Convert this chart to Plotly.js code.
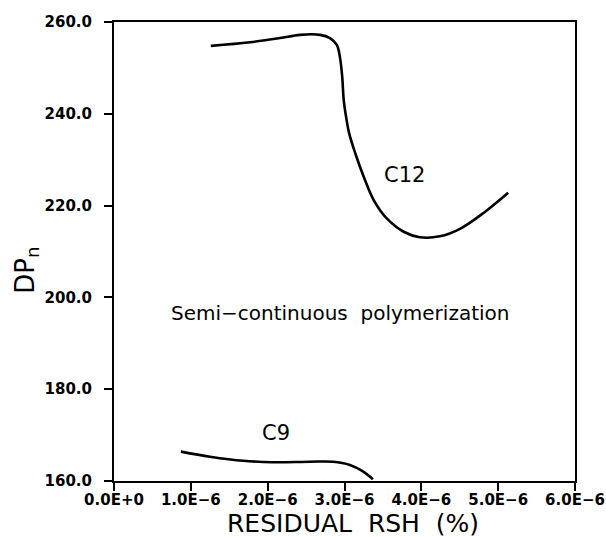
<!DOCTYPE html>
<html>
<head>
<meta charset="utf-8">
<script src="https://cdn.plot.ly/plotly-3.0.1.min.js"></script>
<style>html,body{margin:0;padding:0;background:#fff;}#chart{width:606px;height:537px;}</style>
</head>
<body>
<div id="chart"></div>
<script>
// C12 curve (residual RSH in units of 1e-6 %, DPn)
var c12X = [1.26, 1.77, 2.16, 2.42, 2.68, 2.81, 2.90, 2.94, 2.97, 2.99, 3.02, 3.06, 3.14, 3.25, 3.38, 3.55, 3.77, 3.98, 4.24, 4.51, 4.81, 5.13];
var c12Y = [254.8, 255.6, 256.5, 257.2, 257.2, 256.5, 255.0, 252.4, 248.1, 243.0, 239.4, 235.8, 231.4, 226.3, 221.2, 217.2, 214.3, 213.1, 213.3, 215.0, 218.4, 222.8];
// C9 curve
var c9X = [0.87, 1.25, 1.68, 2.07, 2.55, 2.85, 3.07, 3.23, 3.37];
var c9Y = [166.4, 165.3, 164.4, 164.1, 164.2, 164.2, 163.5, 162.2, 160.4];

var xTickVals = [0, 1, 2, 3, 4, 5, 6];
var xTickText = ["0.0E+0", "1.0E\u22126", "2.0E\u22126", "3.0E\u22126", "4.0E\u22126", "5.0E\u22126", "6.0E\u22126"];
var yTickVals = [160, 180, 200, 220, 240, 260];

function scale(arr) { return arr.map(function (v) { return v * 1e-6; }); }

var lineStyle = {color: '#000', width: 2.6, shape: 'spline', smoothing: 1};
var traces = [
  {x: scale(c12X), y: c12Y, mode: 'lines', line: lineStyle, name: 'C12', hoverinfo: 'none'},
  {x: scale(c9X), y: c9Y, mode: 'lines', line: lineStyle, name: 'C9', hoverinfo: 'none'}
];

var tickFont = {family: 'DejaVu Sans', size: 15, color: '#000', weight: 'bold'};
var layout = {
  width: 606, height: 537,
  margin: {l: 114, r: 31, t: 22, b: 56, pad: 0},
  paper_bgcolor: '#fff', plot_bgcolor: '#fff',
  showlegend: false,
  xaxis: {
    range: [0, 6e-6], tickmode: 'array', tickvals: scale(xTickVals), ticktext: xTickText,
    ticks: 'outside', ticklen: 8, tickwidth: 2, tickcolor: '#000',
    showline: true, linewidth: 2, linecolor: '#000', mirror: true,
    showgrid: false, zeroline: false, tickfont: tickFont, ticklabelstandoff: -4
  },
  yaxis: {
    range: [160, 260], tickmode: 'array', tickvals: yTickVals, tickformat: '.1f',
    ticks: 'outside', ticklen: 8, tickwidth: 2, tickcolor: '#000',
    showline: true, linewidth: 2, linecolor: '#000', mirror: true,
    showgrid: false, zeroline: false, tickfont: tickFont, ticklabelstandoff: 9
  },
  annotations: [
    {xref: 'paper', yref: 'paper', x: 0.518, y: -0.093, text: 'RESIDUAL\u00a0\u00a0RSH\u00a0 (%)',
     showarrow: false, xanchor: 'center', yanchor: 'middle', borderpad: 0,
     font: {family: 'DejaVu Sans', size: 25, color: '#000'}},
    {xref: 'paper', yref: 'paper', x: -0.189, y: 0.46, text: 'DP<sub>n</sub>', textangle: -90,
     showarrow: false, xanchor: 'center', yanchor: 'middle', font: {family: 'DejaVu Sans', size: 26, color: '#000'}},
    {x: 3.78e-6, y: 226.7, text: 'C12', showarrow: false, font: {family: 'DejaVu Sans', size: 21, color: '#000'}},
    {x: 2.11e-6, y: 170.5, text: 'C9', showarrow: false, font: {family: 'DejaVu Sans', size: 21, color: '#000'}},
    {x: 2.94e-6, y: 196.6, text: 'Semi\u2212continuous\u00a0\u00a0polymerization', showarrow: false,
     font: {family: 'DejaVu Sans', size: 20, color: '#000'}}
  ]
};
Plotly.newPlot('chart', traces, layout, {displayModeBar: false, staticPlot: true});
</script>
</body>
</html>
